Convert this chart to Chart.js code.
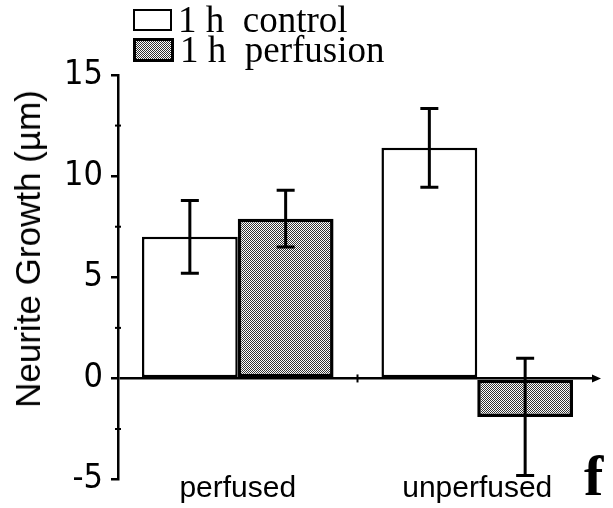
<!DOCTYPE html>
<html>
<head>
<meta charset="utf-8">
<script src="https://cdn.jsdelivr.net/npm/chart.js@4.4.0/dist/chart.umd.min.js"></script>
<style>
    html, body { margin: 0; padding: 0; background: #fff; }
    #wrap { position: relative; width: 613px; height: 508px; }
    #growthChart { display: block; }
    #legend { position: absolute; left: 133px; top: 5px; font-family: "Liberation Serif", "Times New Roman", serif; font-size: 37px; color: #000; }
    .row { height: 30px; line-height: 30px; white-space: pre; display: flex; align-items: center; }
    .box { width: 35px; height: 18px; border: 2.5px solid #000; margin-right: 6px; background: #fff; }
    .box.hatch { border-width: 3px; background: repeating-conic-gradient(#333 0 25%, #fff 0 50%) 0 0 / 2px 2px; }
    #ytitle { position: absolute; left: 28px; top: 249px; transform: translate(-50%, -50%) rotate(-90deg); white-space: nowrap; font-family: "Liberation Sans", Arial, sans-serif; font-size: 35px; color: #000; }
    #panel { position: absolute; left: 584px; top: 447px; font-family: "Liberation Serif", "Times New Roman", serif; font-weight: bold; font-size: 58px; line-height: 1; }
</style>
</head>
<body>
<div id="wrap">
    <canvas id="growthChart" width="613" height="508"></canvas>
    <div id="legend"></div>
    <div id="ytitle">Neurite Growth (µm)</div>
    <div id="panel">f</div>
</div>
<script>
    const categories = ['perfused', 'unperfused'];
    const seriesNames = ['1 h  control', '1 h  perfusion'];
    const controlValues = [7.0, 11.4];
    const controlErrors = [1.8, 1.95];
    const perfusionValues = [7.9, -1.9];
    const perfusionErrors = [1.4, 2.9];
    const yTickLabels = [-5, 0, 5, 10, 15];
    const yMinorTicks = [-2.5, 2.5, 7.5, 12.5];

    // dotted fill for the perfusion bars
    const patCanvas = document.createElement('canvas');
    patCanvas.width = 2;
    patCanvas.height = 2;
    const pctx = patCanvas.getContext('2d');
    pctx.fillStyle = '#fff';
    pctx.fillRect(0, 0, 2, 2);
    pctx.fillStyle = '#333';
    pctx.fillRect(0, 0, 1, 1);
    pctx.fillRect(1, 1, 1, 1);
    const dotPattern = pctx.createPattern(patCanvas, 'repeat');

    //legend (html)
    const legendEl = document.getElementById('legend');
    seriesNames.forEach(function (name, i) {
        const row = document.createElement('div');
        row.className = 'row';
        const box = document.createElement('span');
        box.className = i === 0 ? 'box' : 'box hatch';
        row.appendChild(box);
        row.appendChild(document.createTextNode(name));
        legendEl.appendChild(row);
    });

    // error bars, minor ticks, axis arrow and middle tick
    const extrasPlugin = {
        id: 'extras',
        afterDatasetsDraw(chart) {
            const ctx = chart.ctx;
            const y = chart.scales.y;
            const x = chart.scales.x;
            const errs = [controlErrors, perfusionErrors];
            ctx.save();
            ctx.strokeStyle = '#000';
            ctx.lineWidth = 3;
            chart.data.datasets.forEach(function (ds, di) {
                const meta = chart.getDatasetMeta(di);
                meta.data.forEach(function (bar, i) {
                    const v = ds.data[i];
                    const e = errs[di][i];
                    const top = y.getPixelForValue(v + e);
                    const bot = y.getPixelForValue(v - e);
                    ctx.beginPath();
                    ctx.moveTo(bar.x, top);
                    ctx.lineTo(bar.x, bot);
                    ctx.moveTo(bar.x - 9, top);
                    ctx.lineTo(bar.x + 9, top);
                    ctx.moveTo(bar.x - 9, bot);
                    ctx.lineTo(bar.x + 9, bot);
                    ctx.stroke();
                });
            });

            // minor ticks on y axis
            ctx.lineWidth = 2;
            yMinorTicks.forEach(function (v) {
                const py = y.getPixelForValue(v);
                ctx.beginPath();
                ctx.moveTo(chart.chartArea.left - 3, py);
                ctx.lineTo(chart.chartArea.left + 3, py);
                ctx.stroke();
            });

            // tick between the groups on the zero line
            const zy = y.getPixelForValue(0);
            const mx = (x.getPixelForValue(0) + x.getPixelForValue(1)) / 2;
            ctx.beginPath();
            ctx.moveTo(mx, zy - 4);
            ctx.lineTo(mx, zy + 4);
            ctx.stroke();

            // arrow at the right end
            const rx = chart.chartArea.right;
            ctx.fillStyle = '#000';
            ctx.beginPath();
            ctx.moveTo(rx + 4, zy);
            ctx.lineTo(rx - 5, zy - 4);
            ctx.lineTo(rx - 5, zy + 4);
            ctx.closePath();
            ctx.fill();
            ctx.restore();
        }
    };

    let growthContext = document.getElementById('growthChart');
    let growthChart = new Chart(growthContext, {
        type: 'bar',
        data: {
            labels: categories,
            datasets: [
                {
                    label: seriesNames[0],
                    data: controlValues,
                    backgroundColor: '#fff',
                    borderColor: '#000',
                    borderWidth: 2.5,
                    borderSkipped: false,
                    categoryPercentage: 0.8,
                    barPercentage: 1.0
                },
                {
                    label: seriesNames[1],
                    data: perfusionValues,
                    backgroundColor: dotPattern,
                    borderColor: '#000',
                    borderWidth: 3.5,
                    borderSkipped: false,
                    categoryPercentage: 0.8,
                    barPercentage: 1.0
                }
            ]
        },
        options: {
            responsive: false,
            animation: false,
            layout: {
                padding: { left: 6, right: 16, top: 75, bottom: 0 }
            },
            plugins: {
                legend: { display: false },
                tooltip: { enabled: false }
            },
            scales: {
                x: {
                    grid: { display: false, drawTicks: false },
                    border: { display: false },
                    ticks: {
                        color: '#000',
                        mirror: true, // mirrored labels are not clipped to the axis box
                        padding: -27,
                        font: { family: '"Liberation Sans", Arial, sans-serif', size: 30 }
                    },
                    afterFit: function (scale) { scale.height = 25; }
                },
                y: {
                    min: -5,
                    max: 15,
                    ticks: {
                        stepSize: 2.5,
                        color: '#000',
                        padding: 8,
                        font: { family: '"Liberation Sans Narrow", "DejaVu Sans Condensed", Arial, sans-serif', size: 34 },
                        callback: function (v) { return yTickLabels.includes(v) ? String(v) : ''; }
                    },
                    grid: {
                        color: function (c) { return c.tick && c.tick.value === 0 ? '#000' : 'rgba(0,0,0,0)'; },
                        lineWidth: 2.5,
                        tickLength: 7,
                        tickWidth: 2.5,
                        tickColor: function (c) { return c.tick && yTickLabels.includes(c.tick.value) ? '#000' : 'rgba(0,0,0,0)'; }
                    },
                    border: { display: true, color: '#000', width: 2.5 },
                    afterFit: function (scale) { scale.width = 112; }
                }
            }
        },
        plugins: [extrasPlugin]
    });
</script>
</body>
</html>
